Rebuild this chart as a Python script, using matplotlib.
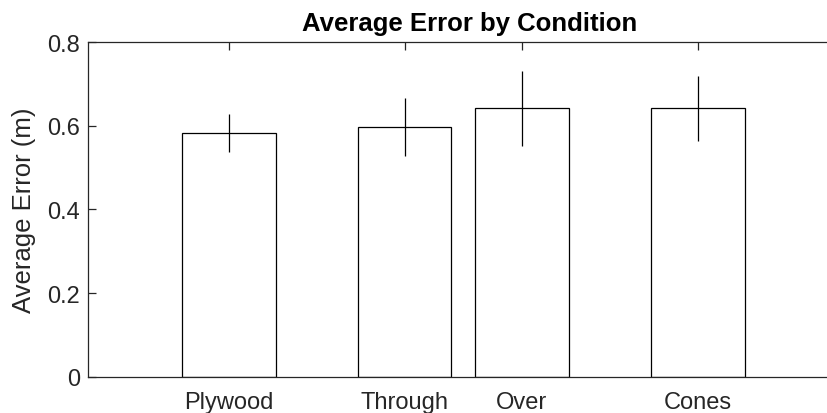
import matplotlib.pyplot as plt

plt.rcParams['font.family'] = ['Liberation Sans', 'DejaVu Sans']

# data
conditions = ['Plywood', 'Through', 'Over', 'Cones']
positions = [1.0, 2.0, 2.667, 3.667]
avg_error = [0.583, 0.597, 0.642, 0.642]
err = [0.046, 0.070, 0.090, 0.077]

dark = '#262626'

fig = plt.figure(figsize=(8.27, 4.14), dpi=100)
ax = fig.add_axes([0.107, 0.0877, 0.921, 0.8077])

ax.bar(positions, avg_error, width=0.533, color='white', edgecolor='black', linewidth=0.9, zorder=2)
ax.errorbar(positions, avg_error, yerr=err, fmt='none', ecolor='black', elinewidth=0.9, capsize=0, zorder=3)

ax.set_xlim(0.203, 4.533)
ax.set_ylim(0, 0.8)
ax.set_yticks([0, 0.2, 0.4, 0.6, 0.8])
ax.set_yticklabels(['0', '0.2', '0.4', '0.6', '0.8'])
ax.set_xticks(positions)
ax.set_xticklabels(conditions)

ax.tick_params(direction='in', length=6, width=0.9, colors=dark, labelsize=17, top=True, right=False)
ax.tick_params(axis='x', pad=10)
ax.tick_params(axis='y', pad=6)
for side in ['left', 'bottom', 'top']:
    ax.spines[side].set_color(dark)
    ax.spines[side].set_linewidth(0.9)
ax.spines['right'].set_visible(False)

ax.set_ylabel('Average Error (m)', fontsize=18.5, color=dark, labelpad=8)
ax.set_title('Average Error by Condition', fontsize=18.5, fontweight='bold', pad=9)

fig.savefig('out.png', dpi=100)
